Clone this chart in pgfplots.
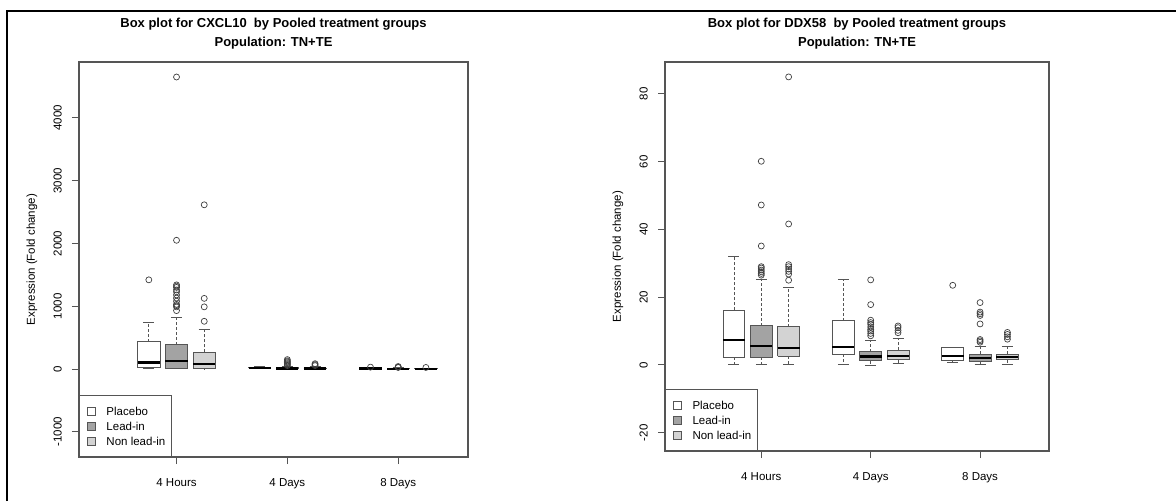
\documentclass[border=0pt]{standalone}
\usepackage{fontspec}
\setmainfont{Liberation Sans}
\usepackage{pgfplots}
\pgfplotsset{compat=1.18}
\definecolor{leadin}{HTML}{A3A3A3}
\definecolor{nonlead}{HTML}{D3D3D3}
\definecolor{frame}{HTML}{555555}
\newcommand{\fs}{\fontsize{11.5}{13}\selectfont}
\pgfplotsset{
  whisk/.style={forget plot, frame, line width=0.8pt, solid, mark=none},
  dwhisk/.style={whisk, dash pattern=on 3pt off 2pt},
  boxst/.style={forget plot, draw=frame, line width=0.8pt, mark=none, solid},
  medst/.style={forget plot, black, line width=2.2pt, mark=none},
  outl/.style={forget plot, only marks, mark=o, mark size=3pt,
    mark options={draw=black!75, line width=0.7pt, solid, fill=none}},
  rstyle/.style={
    scale only axis,
    xmin=-1.52, xmax=12.52,
    xtick={2,6,10}, xticklabels={4 Hours,4 Days,8 Days},
    xtick pos=left, ytick pos=left,
    tick align=outside, major tick length=7pt,
    axis line style={frame, line width=1.1pt},
    tick style={frame, line width=0.9pt},
    scaled y ticks=false,
    tick label style={font=\fs, inner sep=0pt},
    yticklabel style={rotate=90, anchor=south, inner xsep=0pt, inner ysep=10pt},
    xticklabel style={anchor=north, inner xsep=0pt, inner ysep=14pt},
    label style={font=\fs},
    title style={font=\bfseries\fontsize{13}{19}\selectfont, align=center,
      at={(axis description cs:0.5,1)}, anchor=south, inner sep=0pt, yshift=6.7pt},
    legend cell align=left,
    legend style={at={(0,0)}, anchor=south west, draw=frame, line width=1pt,
      font=\fs, inner xsep=4pt, inner ysep=8pt, row sep=0pt,
      nodes={inner sep=2pt, text height=9.5pt, text depth=1.5pt}},
  }
}
% #1 position, #2 fill, #3 lower whisker, #4 lower quartile, #5 median, #6 upper quartile, #7 upper whisker
\newcommand{\rbox}[7]{%
  \pgfmathsetmacro\bxl{#1-0.4}\pgfmathsetmacro\bxr{#1+0.4}%
  \pgfmathsetmacro\wxl{#1-0.2}\pgfmathsetmacro\wxr{#1+0.2}%
  \addplot[dwhisk] coordinates {(#1,#6) (#1,#7)};
  \addplot[dwhisk] coordinates {(#1,#4) (#1,#3)};
  \addplot[whisk] coordinates {(\wxl,#7) (\wxr,#7)};
  \addplot[whisk] coordinates {(\wxl,#3) (\wxr,#3)};
  \addplot[boxst, fill=#2] coordinates {(\bxl,#4) (\bxr,#4) (\bxr,#6) (\bxl,#6) (\bxl,#4)};
  \addplot[medst] coordinates {(\bxl,#5) (\bxr,#5)};
}
\newcommand{\legsq}[1]{\addlegendimage{legend image code/.code={\path[draw=none, fill=none] (0pt,0pt) -- (21pt,0pt);\draw[draw=frame, fill=#1, line width=0.7pt] (4pt,-4pt) rectangle (12pt,4pt);}}}
\begin{document}
\begin{tikzpicture}
\useasboundingbox (0,0) rectangle (1176pt,501pt);
\fill[white] (0,0) rectangle (1176pt,501pt);
\draw[line width=1.6pt, black] (7pt,0) -- (7pt,490pt) -- (1176pt,490pt);

% ---------------- CXCL10 ----------------
\begin{axis}[rstyle,
  at={(79pt,44pt)}, anchor=south west, width=389pt, height=395pt,
  ymin=-1401, ymax=4889,
  ytick={-1000,0,1000,2000,3000,4000},
  yticklabels={-1000,0,1000,2000,3000,4000},
  ylabel={Expression (Fold change)},
  ylabel style={at={(axis description cs:-0.121,0.5)}, anchor=center},
  title={Box plot for CXCL10\ \ by Pooled treatment groups\\Population: TN+TE},
]
\legsq{white}\addlegendentry{Placebo}
\legsq{leadin}\addlegendentry{Lead-in}
\legsq{nonlead}\addlegendentry{Non lead-in}
\rbox{1}{white}{5}{20}{105}{435}{750}
\addplot[outl] coordinates {(1,1420)};
\rbox{2}{leadin}{2}{12}{125}{385}{820}
\addplot[outl] coordinates {(2,4650) (2,2050) (2,1340) (2,1320) (2,1300) (2,1260) (2,1230) (2,1180) (2,1130) (2,1080) (2,1030) (2,1010) (2,990) (2,930)};
\rbox{3}{nonlead}{2}{8}{85}{265}{630}
\addplot[outl] coordinates {(3,2615) (3,1125) (3,990) (3,760)};
\rbox{5}{white}{5}{12}{20}{30}{45}
\rbox{6}{leadin}{0.5}{3}{8}{18}{40}
\addplot[outl] coordinates {(6,150) (6,130) (6,115) (6,100) (6,85) (6,70) (6,55)};
\rbox{7}{nonlead}{0.5}{3}{8}{16}{35}
\addplot[outl] coordinates {(7,85) (7,70) (7,55)};
\rbox{9}{white}{1}{4}{8}{14}{22}
\addplot[outl] coordinates {(9,30)};
\rbox{10}{leadin}{0.5}{2}{5}{10}{18}
\addplot[outl] coordinates {(10,40) (10,30) (10,25)};
\rbox{11}{nonlead}{0.5}{2}{5}{9}{16}
\addplot[outl] coordinates {(11,25)};
\end{axis}

% ---------------- DDX58 ----------------
\begin{axis}[rstyle,
  at={(665pt,50pt)}, anchor=south west, width=384pt, height=389pt,
  ymin=-25.4, ymax=89.4,
  ytick={-20,0,20,40,60,80},
  yticklabels={-20,0,20,40,60,80},
  ylabel={Expression (Fold change)},
  ylabel style={at={(axis description cs:-0.1224,0.5)}, anchor=center},
  title={Box plot for DDX58\ \ by Pooled treatment groups\\Population: TN+TE},
]
\legsq{white}\addlegendentry{Placebo}
\legsq{leadin}\addlegendentry{Lead-in}
\legsq{nonlead}\addlegendentry{Non lead-in}
\rbox{1}{white}{0.2}{2.3}{7.3}{16.2}{32.1}
\rbox{2}{leadin}{0.2}{2.3}{5.6}{11.6}{25.2}
\addplot[outl] coordinates {(2,60.1) (2,47.2) (2,35.1) (2,29.0) (2,28.6) (2,28.0) (2,27.5) (2,27.0) (2,26.5)};
\rbox{3}{nonlead}{0.2}{2.6}{4.9}{11.3}{22.8}
\addplot[outl] coordinates {(3,85.0) (3,41.6) (3,29.6) (3,29.0) (3,28.3) (3,27.6) (3,26.8) (3,25.0)};
\rbox{5}{white}{0.3}{3.1}{5.2}{13.0}{25.3}
\rbox{6}{leadin}{0.0}{1.2}{2.5}{3.9}{7.2}
\addplot[outl] coordinates {(6,25.1) (6,17.8) (6,13.2) (6,12.5) (6,12.0) (6,11.2) (6,10.5) (6,10.0) (6,9.3) (6,8.6)};
\rbox{7}{nonlead}{0.5}{1.5}{2.7}{4.4}{7.8}
\addplot[outl] coordinates {(7,11.5) (7,11.0) (7,10.2) (7,9.5)};
\rbox{9}{white}{0.7}{1.3}{2.7}{5.1}{5.3}
\addplot[outl] coordinates {(9,23.5)};
\rbox{10}{leadin}{0.1}{1.0}{2.1}{3.2}{5.5}
\addplot[outl] coordinates {(10,18.4) (10,15.6) (10,15.1) (10,14.6) (10,12.1) (10,7.5) (10,7.1) (10,6.7)};
\rbox{11}{nonlead}{0.2}{1.5}{2.3}{3.2}{5.4}
\addplot[outl] coordinates {(11,9.6) (11,9.0) (11,8.3) (11,7.6)};
\end{axis}
\end{tikzpicture}
\end{document}
